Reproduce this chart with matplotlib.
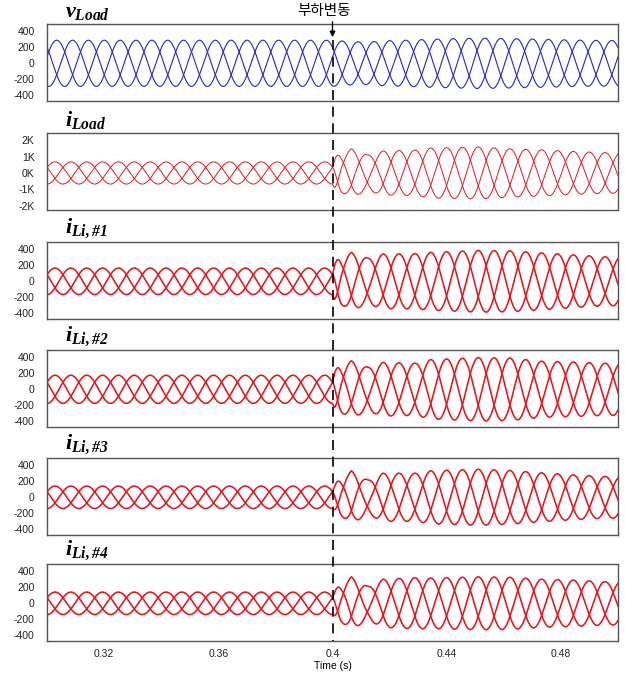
"""
부하변동 시 부하 전압 / 부하 전류 / 인버터별 출력 전류 파형 (3상, 60 Hz)
"""
import numpy as np
import matplotlib
matplotlib.use('Agg')
import matplotlib.pyplot as plt
from matplotlib.lines import Line2D
from matplotlib.patches import FancyArrowPatch

plt.rcParams['mathtext.fontset'] = 'custom'
plt.rcParams['mathtext.it'] = 'Liberation Serif:style=italic:weight=bold'
plt.rcParams['mathtext.rm'] = 'Liberation Serif:style=italic:weight=bold'
plt.rcParams['mathtext.bf'] = 'Liberation Serif:style=italic:weight=bold'

# ── données ──────────────────────────────────────────────────────────────────
FREQ = 60.0
T_START, T_END = 0.3, 0.5
T_STEP = 0.4
STEP_LABEL = '부하변동'
XTICKS = [0.32, 0.36, 0.4, 0.44, 0.48]
XTICK_LABELS = ['0.32', '0.36', '0.4', '0.44', '0.48']
XLABEL = 'Time (s)'

TITLES = [r'$v_{Load}$', r'$i_{Load}$', r'$i_{Li,\#1}$',
          r'$i_{Li,\#2}$', r'$i_{Li,\#3}$', r'$i_{Li,\#4}$']

YTICKS_400 = [400, 200, 0, -200, -400]
YLABELS_400 = ['400', '200', '0', '-200', '-400']
YTICKS_2K = [2000, 1000, 0, -1000, -2000]
YLABELS_2K = ['2K', '1K', '0K', '-1K', '-2K']

# phase (deg) de la phase a : tension constante, courant avant / après
V_PHASE = 16.6
I_PHASE_BEFORE = 29.5
I_PHASE_AFTER = 67.4

# enveloppes d'amplitude (crête) lues aux pics
ENV_T_AFTER = [0.4008, 0.4066, 0.4124, 0.4177, 0.4289, 0.4344,
               0.4511, 0.4622, 0.4733, 0.4844, 0.4955]
v_load_before = 288
v_load_after = [285, 270, 265, 280, 292, 300, 315, 308, 300, 290, 285]
i_load_before = 680
i_load_after = [1000, 1480, 1100, 1350, 1400, 1530, 1600, 1480, 1420, 1320, 1250]
i_li1_before = 165
i_li1_after = [250, 360, 290, 340, 345, 360, 385, 380, 355, 330, 305]
i_li2_before = 175
i_li2_after = [250, 355, 275, 335, 325, 370, 395, 390, 350, 340, 325]
i_li3_before = 140
i_li3_after = [170, 330, 215, 300, 300, 330, 350, 335, 305, 280, 260]
i_li4_before = 140
i_li4_after = [170, 330, 210, 300, 320, 315, 330, 325, 300, 290, 270]

BLUE = '#2424cc'
RED = '#e8141c'

panels = [
    (v_load_before, v_load_after, 'v', BLUE, 0.8),
    (i_load_before, i_load_after, 'i', RED, 0.7),
    (i_li1_before, i_li1_after, 'i', RED, 1.15),
    (i_li2_before, i_li2_after, 'i', RED, 1.15),
    (i_li3_before, i_li3_after, 'i', RED, 1.15),
    (i_li4_before, i_li4_after, 'i', RED, 1.15),
]

# ── mise en page (pixels de la figure 625x675) ───────────────────────────────
W, H = 625, 675
LEFT, RIGHT = 47, 618
PANEL_TOPS = [24, 133, 242, 350, 458, 564]
PANEL_H = 77

fig = plt.figure(figsize=(W / 100, H / 100), dpi=100)
t = np.linspace(T_START, T_END, 6001)

axes = []
for i, (a0, a_after, kind, color, lw) in enumerate(panels):
    top = PANEL_TOPS[i]
    ax = fig.add_axes([LEFT / W, 1 - (top + PANEL_H) / H,
                       (RIGHT - LEFT) / W, PANEL_H / H])
    amp = np.interp(t, [T_START, T_STEP] + ENV_T_AFTER + [T_END],
                    [a0, a0] + a_after + [a_after[-1]])
    if kind == 'v':
        phi = np.full_like(t, V_PHASE)
    else:
        phi = np.interp(t, [T_STEP, T_STEP + 0.003],
                        [I_PHASE_BEFORE, I_PHASE_AFTER])
    theta = 360.0 * FREQ * t + phi
    for k in range(3):
        ax.plot(t, amp * np.sin(np.radians(theta - 120 * k)),
                color=color, lw=lw, solid_joinstyle='round')

    ax.set_xlim(T_START, T_END)
    if i == 1:
        ax.set_ylim(-2270, 2450)
        ax.set_yticks(YTICKS_2K)
        ax.set_yticklabels(YLABELS_2K)
    else:
        ax.set_ylim(-470, 490)
        ax.set_yticks(YTICKS_400)
        ax.set_yticklabels(YLABELS_400)
    ax.set_xticks(XTICKS)
    if i == len(panels) - 1:
        ax.set_xticklabels(XTICK_LABELS)
    else:
        ax.set_xticklabels([])
    ax.tick_params(length=0, labelsize=7.5, colors='#222222', pad=9)
    ax.tick_params(axis='x', pad=6)
    for lab in ax.get_xticklabels() + ax.get_yticklabels():
        lab.set_family('Liberation Sans')
    for sp in ax.spines.values():
        sp.set_color('#555555')
        sp.set_linewidth(1.0)
    ax.text(0.032, 1.02, TITLES[i], transform=ax.transAxes,
            fontsize=16, ha='left', va='bottom')
    axes.append(ax)

# ── ligne pointillée + flèche « 부하변동 » ─────────────────────────────────────
x_px = LEFT + (T_STEP - T_START) / (T_END - T_START) * (RIGHT - LEFT)
xf = x_px / W
fig.add_artist(Line2D([xf, xf], [1 - 40 / H, 1 - 641 / H],
                      transform=fig.transFigure, color='black',
                      lw=1.2, ls=(0, (6, 4))))
fig.add_artist(FancyArrowPatch((xf, 1 - 19 / H), (xf, 1 - 40 / H),
                               transform=fig.transFigure, arrowstyle='-|>',
                               mutation_scale=8, color='black', lw=1.0))
fig.text(324 / W, 1 - 11 / H, STEP_LABEL, ha='center', va='center',
         fontsize=10.5, family=['Noto Sans CJK KR', 'DejaVu Sans'])

fig.text(x_px / W, 1 - 666 / H, XLABEL, ha='center', va='center',
         fontsize=7.5, family='Liberation Sans')

plt.savefig('out.png', dpi=100)
